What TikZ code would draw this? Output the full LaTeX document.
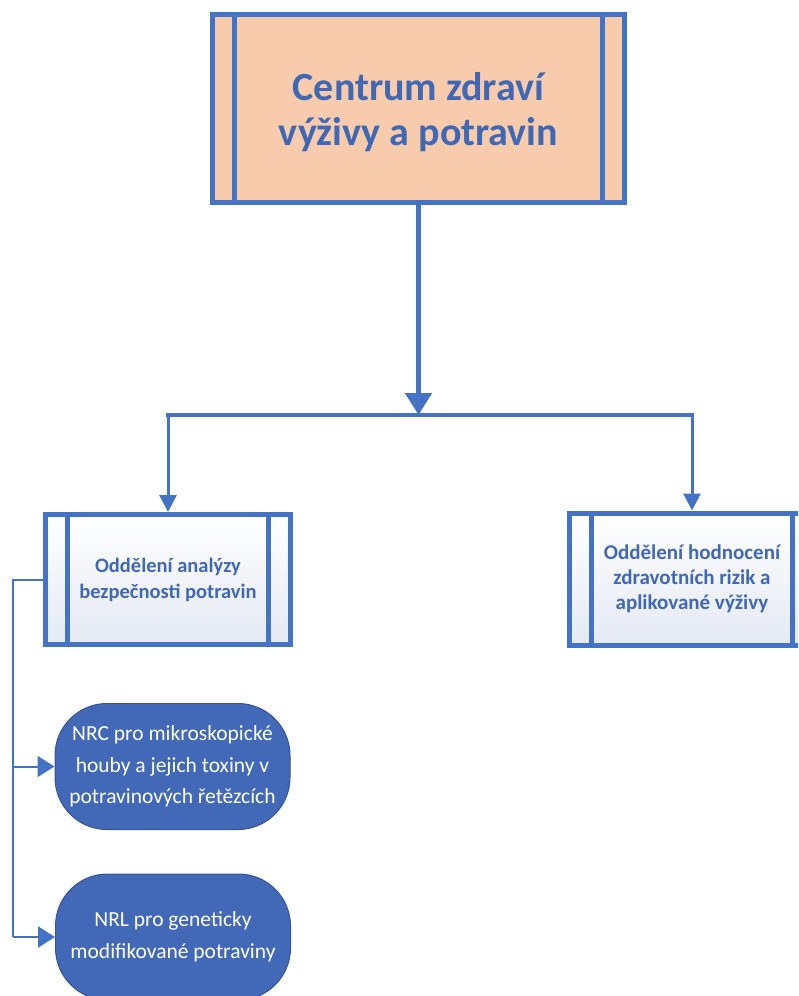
\documentclass[tikz,border=0pt]{standalone}
\usepackage{fontspec}
\setmainfont{Carlito}
\usetikzlibrary{arrows.meta}
\definecolor{orgblue}{HTML}{4472C4}
\definecolor{orgtext}{HTML}{3F68B5}
\definecolor{peach}{HTML}{F8CBAD}
\definecolor{paleblue}{HTML}{E4E9F2}
\definecolor{labfill}{HTML}{4269B8}

\tikzset{
  sidebars/.style={path picture={
    \draw[orgblue, line width=#1]
      ([xshift=22pt]path picture bounding box.north west) -- ([xshift=22pt]path picture bounding box.south west)
      ([xshift=-22pt]path picture bounding box.north east) -- ([xshift=-22pt]path picture bounding box.south east);}},
  unitbox/.style={rectangle, draw=orgblue, line width=5pt, inner sep=0pt, align=center,
    text=orgtext, sidebars=5pt},
  labnode/.style={rectangle, rounded corners=52pt, draw=labfill!80!black, line width=1pt,
    fill=labfill, text=white, inner sep=0pt, align=center,
    minimum width=235pt, minimum height=126pt, font=\fontsize{21.5}{31.5}\selectfont},
  link/.style={draw=orgblue, line width=#1},
}

\begin{document}
\begin{tikzpicture}[x=1pt, y=-1pt]
% Set the page to the size of the reference
\useasboundingbox (0,0) rectangle (798,996);
\clip (0,0) rectangle (798,996);

% The centre at the top
\node[unitbox, fill=peach, minimum width=412pt, minimum height=188pt, text depth=0pt,
  font=\fontsize{40}{45}\selectfont\bfseries] (centrum) at (418.5,108.5)
  {Centrum zdraví\\výživy a potravin};

% The two departments
\node[unitbox, top color=white, bottom color=paleblue, minimum width=245pt, minimum height=130pt,
  font=\fontsize{20.5}{26}\selectfont\bfseries] (analyza) at (168,579.5)
  {Oddělení analýzy\\bezpečnosti potravin};
\node[unitbox, top color=white, bottom color=paleblue, minimum width=245pt, minimum height=132pt,
  font=\fontsize{21}{25}\selectfont\bfseries] (hodnoceni) at (692,579)
  {Oddělení hodnocení\\zdravotních rizik a\\aplikované výživy};

% The two laboratories
\node[labnode] (nrc) at (172.5,766.5) {NRC pro mikroskopické\\houby a jejich toxiny v\\potravinových řetězcích};
\node[labnode] (nrl) at (173,937) {NRL pro geneticky\\modifikované potraviny};

% Connectors from the centre
\coordinate (split) at (418.5,415);
\draw[link=5pt, -{Triangle[length=22pt,width=26pt]}] (centrum.south) -- (split);
\draw[link=4pt, line cap=rect] (split -| analyza.north) -- (split -| hodnoceni.north);
\draw[link=3pt, -{Triangle[length=17pt,width=17pt]}] (split -| analyza.north) -- (analyza.north);
\draw[link=3pt, -{Triangle[length=17pt,width=17pt]}] (split -| hodnoceni.north) -- (hodnoceni.north);

% Connectors to the laboratories
\coordinate (rail) at (13,579.5);
\draw[link=2pt] (analyza.west) -- (rail) -- (rail |- nrl.west);
\draw[link=2pt, -{Triangle[length=17pt,width=21pt]}] (rail |- nrc.west) -- (nrc.west);
\draw[link=2pt, -{Triangle[length=17pt,width=21pt]}] (rail |- nrl.west) -- (nrl.west);
\end{tikzpicture}
\end{document}
